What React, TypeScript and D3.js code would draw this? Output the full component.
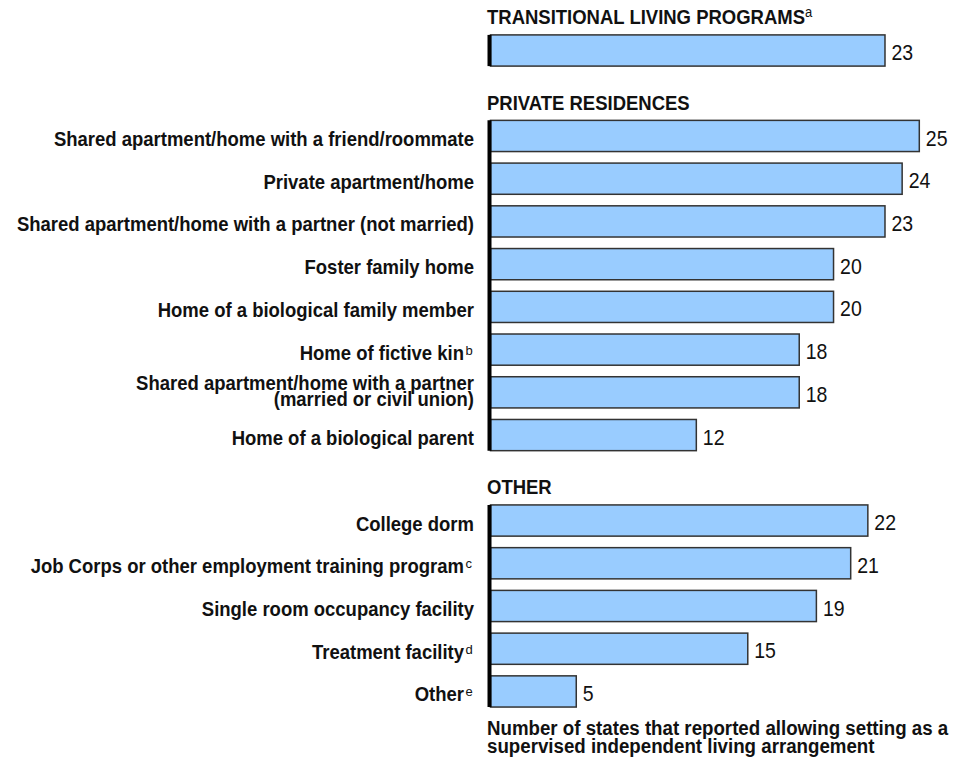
import React from "react";
import * as d3 from "d3";

const groups = ["TRANSITIONAL LIVING PROGRAMS", "PRIVATE RESIDENCES", "OTHER"];
const groupSups = ["a", "", ""];

const tlpLabels = [""];
const tlpSups = [""];
const tlpValues = [23];

const privateLabels = [
  "Shared apartment/home with a friend/roommate",
  "Private apartment/home",
  "Shared apartment/home with a partner (not married)",
  "Foster family home",
  "Home of a biological family member",
  "Home of fictive kin",
  "Shared apartment/home with a partner|(married or civil union)",
  "Home of a biological parent",
];
const privateSups = ["", "", "", "", "", "b", "", ""];
const privateValues = [25, 24, 23, 20, 20, 18, 18, 12];

const otherLabels = [
  "College dorm",
  "Job Corps or other employment training program",
  "Single room occupancy facility",
  "Treatment facility",
  "Other",
];
const otherSups = ["", "c", "", "d", "e"];
const otherValues = [22, 21, 19, 15, 5];

const footerLines = [
  "Number of states that reported allowing setting as a",
  "supervised independent living arrangement",
];

const FONT = "'Liberation Sans', Arial, Helvetica, sans-serif";
const LABEL_SIZE = 18.5;
const LABEL_STRETCH = 1.07;
const VALUE_SIZE = 19.5;
const VALUE_STRETCH = 1.12;

type Row =
  | { kind: "header"; key: string; text: string; sup: string }
  | { kind: "bar"; key: string; label: string; sup: string; value: number; group: number };

function SText(props: {
  x: number;
  y: number;
  s: number;
  size: number;
  bold?: boolean;
  anchor?: "start" | "end";
  children: React.ReactNode;
}) {
  return (
    <text
      transform={`translate(${props.x},${props.y}) scale(1,${props.s})`}
      fontSize={props.size}
      fontWeight={props.bold ? "bold" : "normal"}
      textAnchor={props.anchor || "start"}
      fill="#111"
    >
      {props.children}
    </text>
  );
}

export default function App() {
  const W = 964;
  const H = 768;

  const rows: Row[] = [];
  const groupData = [
    { labels: tlpLabels, sups: tlpSups, values: tlpValues },
    { labels: privateLabels, sups: privateSups, values: privateValues },
    { labels: otherLabels, sups: otherSups, values: otherValues },
  ];
  groupData.forEach((g, gi) => {
    rows.push({ kind: "header", key: "h" + gi, text: groups[gi], sup: groupSups[gi] });
    g.values.forEach((v, i) =>
      rows.push({ kind: "bar", key: `b${gi}-${i}`, label: g.labels[i], sup: g.sups[i], value: v, group: gi })
    );
  });

  const x = d3.scaleLinear().domain([0, 25]).range([490.5, 919.3]);
  const step = 42.73;
  const y = d3
    .scaleBand<string>()
    .domain(rows.map((r) => r.key))
    .range([50.5 - 1.5 * step, 50.5 - 1.5 * step + rows.length * step])
    .paddingInner(0.27)
    .paddingOuter(0.135);

  const bw = y.bandwidth();

  const axes = groupData.map((g, gi) => {
    const keys = rows.filter((r) => r.kind === "bar" && r.group === gi).map((r) => r.key);
    const top = y(keys[0])!;
    const bottom = y(keys[keys.length - 1])! + bw;
    return { gi, top, bottom };
  });

  return (
    <svg
      width={W}
      height={H}
      style={{ display: "block", position: "absolute", left: 0, top: 0 }}
      fontFamily={FONT}
    >
      <rect width={W} height={H} fill="#ffffff" />
      {rows.map((r, idx) => {
        if (r.kind === "header") {
          const next = rows[idx + 1];
          const by = y(next.key)! - 10.5;
          return (
            <SText key={r.key} x={487} y={by} s={LABEL_STRETCH} size={LABEL_SIZE} bold>
              {r.text}
              {r.sup && (
                <tspan fontSize={13} fontWeight="normal" dy={-7}>
                  {r.sup}
                </tspan>
              )}
            </SText>
          );
        }
        const yy = y(r.key)!;
        const cy = yy + bw / 2;
        const lines = r.label ? r.label.split("|") : [];
        return (
          <g key={r.key}>
            <rect
              x={x(0)}
              y={yy}
              width={x(r.value) - x(0)}
              height={bw}
              fill="#99ccff"
              stroke="#333333"
              strokeWidth={1.5}
            />
            <SText x={x(r.value) + 6.5} y={cy + 9.6} s={VALUE_STRETCH} size={VALUE_SIZE}>
              {r.value}
            </SText>
            {lines.length === 1 && (
              <SText
                x={r.sup ? 464 : 474}
                y={cy + 10}
                s={LABEL_STRETCH}
                size={LABEL_SIZE}
                bold
                anchor="end"
              >
                {lines[0]}
              </SText>
            )}
            {lines.length === 1 && r.sup && (
              <SText x={465.5} y={cy + 5} s={1} size={13}>
                {r.sup}
              </SText>
            )}
            {lines.length === 2 &&
              lines.map((l, li) => (
                <SText
                  key={li}
                  x={474}
                  y={cy - 2.5 + li * 16}
                  s={LABEL_STRETCH}
                  size={LABEL_SIZE}
                  bold
                  anchor="end"
                >
                  {l}
                </SText>
              ))}
          </g>
        );
      })}
      {axes.map((a) => (
        <line
          key={a.gi}
          x1={x(0) - 1}
          x2={x(0) - 1}
          y1={a.top}
          y2={a.bottom}
          stroke="#000"
          strokeWidth={4}
        />
      ))}
      {footerLines.map((l, i) => (
        <SText key={i} x={487} y={735 + i * 18} s={LABEL_STRETCH} size={18.7} bold>
          {l}
        </SText>
      ))}
    </svg>
  );
}
